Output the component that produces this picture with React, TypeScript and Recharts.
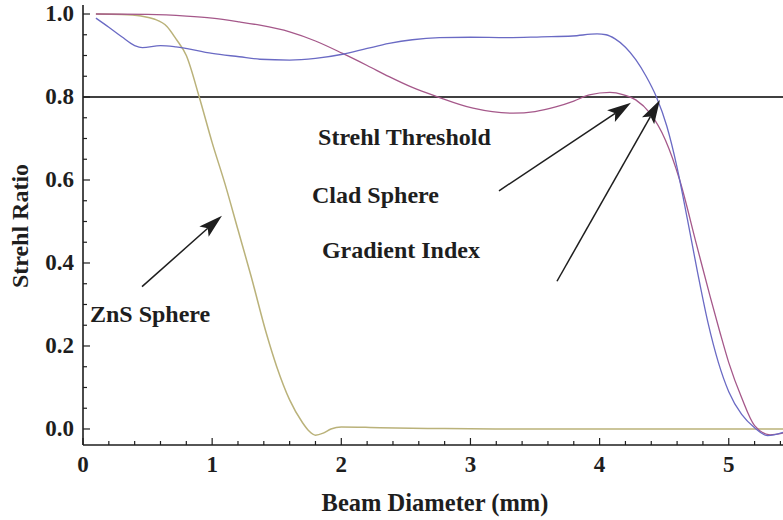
import { LineChart, Line, XAxis, YAxis, ReferenceLine } from 'recharts'

// Beam diameter (mm) and Strehl ratio
const gradientX = [0.1, 0.2, 0.3, 0.4, 0.46, 0.6, 0.72, 1.0, 1.21, 1.37, 1.6, 1.8, 2.01, 2.2, 2.37, 2.55, 2.76, 3.0, 3.28, 3.55, 3.79, 3.98, 4.05, 4.12, 4.2, 4.28, 4.36, 4.44, 4.52, 4.6, 4.68, 4.76, 4.84, 4.92, 5.0, 5.1, 5.2, 5.3, 5.42]
const gradientY = [0.99, 0.968, 0.945, 0.924, 0.919, 0.924, 0.921, 0.905, 0.897, 0.891, 0.889, 0.893, 0.903, 0.917, 0.929, 0.938, 0.943, 0.944, 0.943, 0.945, 0.947, 0.952, 0.95, 0.94, 0.92, 0.89, 0.85, 0.8, 0.73, 0.63, 0.505, 0.375, 0.255, 0.16, 0.09, 0.035, 0.003, -0.016, -0.008]

const cladX = [0.1, 0.5, 0.8, 1.0, 1.21, 1.37, 1.6, 1.8, 2.01, 2.2, 2.37, 2.55, 2.74, 3.02, 3.33, 3.5, 3.66, 3.8, 3.92, 4.08, 4.18, 4.28, 4.39, 4.51, 4.62, 4.75, 4.855, 4.93, 5.0, 5.1, 5.2, 5.32, 5.42]
const cladY = [1.0, 0.999, 0.995, 0.99, 0.981, 0.973, 0.957, 0.935, 0.905, 0.876, 0.849, 0.823, 0.801, 0.773, 0.761, 0.765, 0.776, 0.79, 0.805, 0.811, 0.806, 0.793, 0.761, 0.696, 0.6, 0.445, 0.32, 0.235, 0.16, 0.075, 0.008, -0.014, -0.01]

const znsX = [0.1, 0.3, 0.45, 0.55, 0.65, 0.72, 0.8, 0.9, 1.0, 1.1, 1.2, 1.3, 1.42, 1.5, 1.6, 1.7, 1.75, 1.8, 1.86, 1.92, 2.0, 2.3, 2.8, 3.5, 5.42]
const znsY = [1.0, 0.999, 0.995, 0.988, 0.97, 0.94, 0.9, 0.8, 0.69, 0.59, 0.48, 0.37, 0.23, 0.15, 0.07, 0.015, -0.005, -0.015, -0.01, 0.0, 0.005, 0.003, 0.001, 0.0, 0.0]

const threshold = 0.8

const xTicks = [0, 0.2, 0.4, 0.6, 0.8, 1, 1.2, 1.4, 1.6, 1.8, 2, 2.2, 2.4, 2.6, 2.8, 3, 3.2, 3.4, 3.6, 3.8, 4, 4.2, 4.4, 4.6, 4.8, 5, 5.2, 5.4]
const yTicks = [0, 0.05, 0.1, 0.15, 0.2, 0.25, 0.3, 0.35, 0.4, 0.45, 0.5, 0.55, 0.6, 0.65, 0.7, 0.75, 0.8, 0.85, 0.9, 0.95, 1]

const labels = [
  { text: 'Strehl Threshold', x: 1.82, y: 0.684 },
  { text: 'Clad Sphere', x: 1.773, y: 0.545 },
  { text: 'Gradient Index', x: 1.85, y: 0.412 },
  { text: 'ZnS Sphere', x: 0.054, y: 0.258 },
]

const arrows = [
  { from: [0.457, 0.343], to: [1.076, 0.514] },
  { from: [3.221, 0.574], to: [4.243, 0.786] },
  { from: [3.67, 0.356], to: [4.467, 0.793] },
]

const W = 783
const H = 520
const LEFT = 83
const TOP = 5
const BOTTOM = 445
const X_DOMAIN: [number, number] = [0, 5.42]
const Y_DOMAIN: [number, number] = [-0.0386, 1.0217]
const FONT = '"Liberation Serif", "Times New Roman", serif'
const INK = '#1e1e1e'

const toPoints = (xs: number[], ys: number[]) => xs.map((x, i) => ({ x, y: ys[i] }))

const gradientData = toPoints(gradientX, gradientY)
const cladData = toPoints(cladX, cladY)
const znsData = toPoints(znsX, znsY)

// same mapping as the chart axes, used for the annotation layer
const sx = (v: number) => LEFT + ((v - X_DOMAIN[0]) / (X_DOMAIN[1] - X_DOMAIN[0])) * (W - LEFT)
const sy = (v: number) => TOP + ((Y_DOMAIN[1] - v) / (Y_DOMAIN[1] - Y_DOMAIN[0])) * (BOTTOM - TOP)

const isWhole = (v: number, step: number) => Math.abs(v / step - Math.round(v / step)) < 1e-6

function BottomTick({ x, y, payload }: any) {
  const major = isWhole(payload.value, 1)
  return (
    <g>
      <line x1={x} x2={x} y1={y} y2={y - (major ? 7 : 4)} stroke={INK} strokeWidth={1.2} />
      {major && (
        <text x={x} y={y + 27} textAnchor="middle" fontFamily={FONT} fontWeight="bold" fontSize={23} fill={INK}>
          {Math.round(payload.value)}
        </text>
      )}
    </g>
  )
}

function TopTick({ x, y, payload }: any) {
  const major = isWhole(payload.value, 1)
  return <line x1={x} x2={x} y1={y} y2={y + (major ? 7 : 4)} stroke={INK} strokeWidth={1.2} />
}

function LeftTick({ x, y, payload }: any) {
  const major = isWhole(payload.value, 0.2)
  return (
    <g>
      <line x1={x} x2={x + (major ? 7 : 4)} y1={y} y2={y} stroke={INK} strokeWidth={1.2} />
      {major && (
        <text x={x - 9} y={y + 7} textAnchor="end" fontFamily={FONT} fontWeight="bold" fontSize={23} fill={INK}>
          {payload.value.toFixed(1)}
        </text>
      )}
    </g>
  )
}

function Arrow({ from, to }: { from: number[]; to: number[] }) {
  const x1 = sx(from[0])
  const y1 = sy(from[1])
  const x2 = sx(to[0])
  const y2 = sy(to[1])
  const len = Math.hypot(x2 - x1, y2 - y1)
  const ux = (x2 - x1) / len
  const uy = (y2 - y1) / len
  const head = 24
  const half = 7
  const bx = x2 - ux * head
  const by = y2 - uy * head
  const nx = bx + ux * 5
  const ny = by + uy * 5
  const pts = [
    [x2, y2],
    [bx - uy * half, by + ux * half],
    [nx, ny],
    [bx + uy * half, by - ux * half],
  ]
  return (
    <g>
      <line x1={x1} y1={y1} x2={nx} y2={ny} stroke={INK} strokeWidth={1.5} />
      <polygon points={pts.map((p) => p.join(',')).join(' ')} fill={INK} />
    </g>
  )
}

export default function App() {
  return (
    <div style={{ position: 'absolute', left: 0, top: 0, width: W, height: H, background: '#fff' }}>
      <LineChart
        width={W}
        height={H}
        margin={{ top: TOP, right: 0, bottom: 0, left: 0 }}
        style={{ position: 'absolute', left: 0, top: 0 }}
      >
        <XAxis
          type="number"
          dataKey="x"
          domain={X_DOMAIN}
          ticks={xTicks}
          allowDataOverflow
          height={H - BOTTOM}
          tickSize={0}
          tickMargin={0}
          tickLine={false}
          axisLine={{ stroke: INK, strokeWidth: 1.6 }}
          tick={<BottomTick />}
          interval={0}
        />
        <XAxis
          xAxisId="top"
          orientation="top"
          type="number"
          dataKey="x"
          domain={X_DOMAIN}
          ticks={xTicks}
          allowDataOverflow
          height={0}
          tickSize={0}
          tickMargin={0}
          tickLine={false}
          axisLine={{ stroke: INK, strokeWidth: 1.6 }}
          tick={<TopTick />}
          interval={0}
        />
        <YAxis
          type="number"
          domain={Y_DOMAIN}
          ticks={yTicks}
          allowDataOverflow
          width={LEFT}
          tickSize={0}
          tickMargin={0}
          tickLine={false}
          axisLine={{ stroke: INK, strokeWidth: 1.6 }}
          tick={<LeftTick />}
          interval={0}
        />
        <ReferenceLine y={threshold} stroke="#000" strokeWidth={1.6} ifOverflow="hidden" />
        <Line data={znsData} dataKey="y" type="monotone" stroke="#bab27a" strokeWidth={1.5} dot={false} isAnimationActive={false} />
        <Line data={cladData} dataKey="y" type="monotone" stroke="#a5588a" strokeWidth={1.3} dot={false} isAnimationActive={false} />
        <Line data={gradientData} dataKey="y" type="monotone" stroke="#6a6ac4" strokeWidth={1.3} dot={false} isAnimationActive={false} />
      </LineChart>

      <svg width={W} height={H} style={{ position: 'absolute', left: 0, top: 0, pointerEvents: 'none' }}>
        {labels.map((l) => (
          <text key={l.text} x={sx(l.x)} y={sy(l.y)} fontFamily={FONT} fontWeight="bold" fontSize={24} fill={INK}>
            {l.text}
          </text>
        ))}
        {arrows.map((a, i) => (
          <Arrow key={i} from={a.from} to={a.to} />
        ))}
        <text x={435} y={511} textAnchor="middle" fontFamily={FONT} fontWeight="bold" fontSize={24.5} fill={INK}>
          Beam Diameter (mm)
        </text>
        <text
          x={28}
          y={226}
          transform="rotate(-90 28 226)"
          textAnchor="middle"
          fontFamily={FONT}
          fontWeight="bold"
          fontSize={24}
          fill={INK}
        >
          Strehl Ratio
        </text>
      </svg>
    </div>
  )
}
